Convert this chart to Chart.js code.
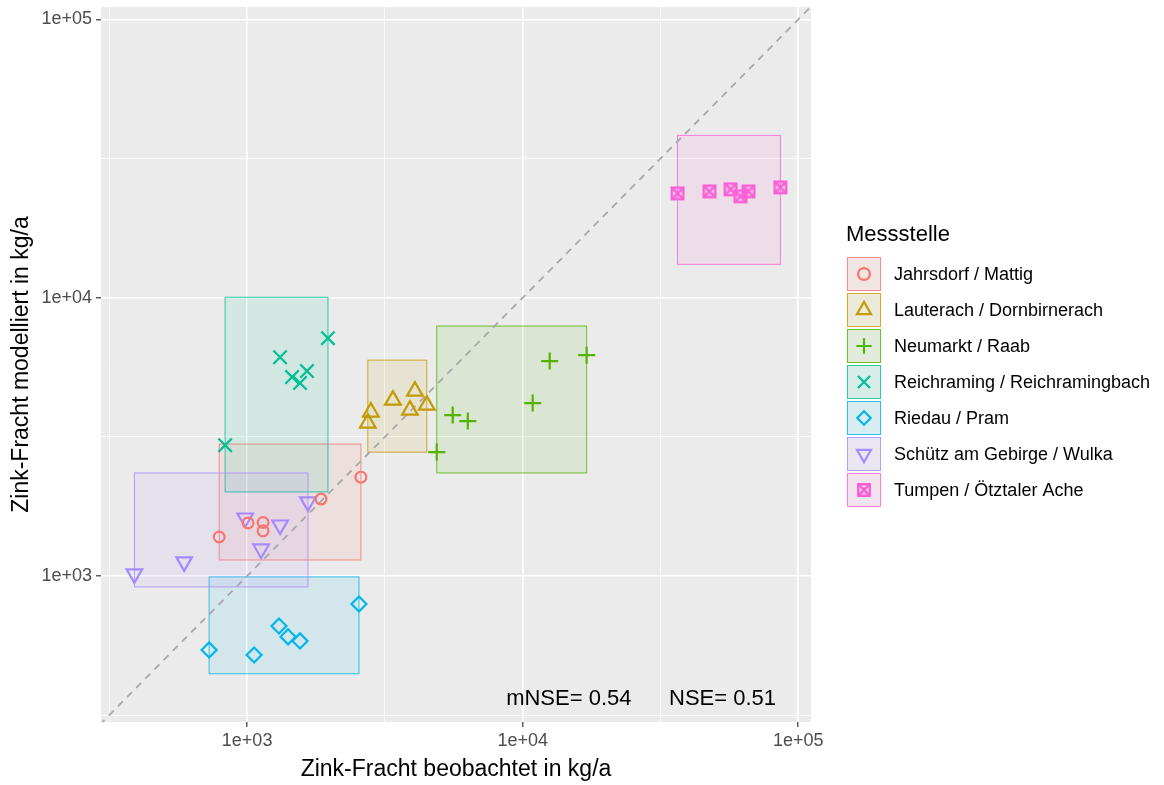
<!DOCTYPE html>
<html lang="de">
<head>
<meta charset="UTF-8">
<script src="https://cdn.jsdelivr.net/npm/chart.js"></script>
<style>
  html, body { margin: 0; padding: 0; background: #fff; }
  #wrap { width: 1164px; height: 785px; }
</style>
</head>
<body>
<div id="wrap"><canvas id="myChart" width="1164" height="785"></canvas></div>
<script>
// Messstellen
const stations = ['Jahrsdorf / Mattig', 'Lauterach / Dornbirnerach', 'Neumarkt / Raab',
  'Reichraming / Reichramingbach', 'Riedau / Pram', 'Schütz am Gebirge / Wulka', 'Tumpen / Ötztaler Ache']
const colors = ['#F8766D', '#C49A00', '#53B400', '#00C094', '#00B6EB', '#A58AFF', '#FB61D7']

// beobachtet (x) / modelliert (y), kg/a
const jahrsdorfObs = [792, 1008, 1143, 1143, 1854, 2588]
const jahrsdorfMod = [1380, 1550, 1556, 1452, 1889, 2265]
const lauterachObs = [2812, 2741, 3381, 4063, 3897, 4487]
const lauterachMod = [3882, 3541, 4285, 4617, 3945, 4111]
const neumarktObs = [4876, 5572, 6322, 10870, 12530, 17060]
const neumarktMod = [2786, 3785, 3603, 4181, 5917, 6215]
const reichramingObs = [832, 1317, 1456, 1556, 1649, 1965]
const reichramingMod = [2951, 6108, 5183, 4935, 5447, 7156]
const riedauObs = [728, 1060, 1305, 1408, 1556, 2546]
const riedauMod = [542, 520, 661, 604, 584, 793]
const schuetzObs = [390, 591, 984, 1124, 1317, 1663]
const schuetzMod = [1017, 1123, 1615, 1250, 1524, 1845]
const tumpenObs = [36450, 47620, 56770, 61700, 65960, 86120]
const tumpenMod = [23710, 24100, 24520, 23140, 24100, 24920]

// Bereich modelliert (untere / obere Grenze der Rechtecke)
const boxLow = [1141, 2786, 2345, 2004, 445, 913, 13180]
const boxHigh = [2979, 5965, 7910, 10040, 992, 2344, 38320]

const tickValues = [316.23, 1000, 3162.3, 10000, 31623, 100000]
const majorTicks = [1000, 10000, 100000]
const nseLabels = ['mNSE= 0.54', 'NSE= 0.51']

const allObs = [jahrsdorfObs, lauterachObs, neumarktObs, reichramingObs, riedauObs, schuetzObs, tumpenObs]
const allMod = [jahrsdorfMod, lauterachMod, neumarktMod, reichramingMod, riedauMod, schuetzMod, tumpenMod]

const FONT = '"Liberation Sans", Arial, sans-serif'

function alpha(hex, a) {
    const n = parseInt(hex.slice(1), 16)
    return 'rgba(' + (n >> 16) + ',' + ((n >> 8) & 255) + ',' + (n & 255) + ',' + a + ')'
}

// boxed cross (ggplot shape 7)
function boxCross(color) {
    const c = document.createElement('canvas')
    c.width = 16; c.height = 16
    const g = c.getContext('2d')
    g.strokeStyle = color
    g.lineWidth = 2.6
    g.strokeRect(2.3, 2.3, 11.4, 11.4)
    g.beginPath()
    g.moveTo(3, 3); g.lineTo(13, 13)
    g.moveTo(13, 3); g.lineTo(3, 13)
    g.stroke()
    return c
}

const styles = [
    {pointStyle: 'circle', radius: 5.4, rotation: 0},
    {pointStyle: 'triangle', radius: 9, rotation: 0},
    {pointStyle: 'cross', radius: 8.5, rotation: 0},
    {pointStyle: 'crossRot', radius: 9.5, rotation: 0},
    {pointStyle: 'rectRot', radius: 7.5, rotation: 0},
    {pointStyle: 'triangle', radius: 9, rotation: 180},
    {pointStyle: boxCross(colors[6]), radius: 8, rotation: 0}
]

const isMajor = v => majorTicks.some(m => Math.abs(v - m) / m < 1e-6)

const datasets = stations.map((name, i) => ({
    label: name,
    data: allObs[i].map((x, j) => ({x: x, y: allMod[i][j]})),
    borderColor: colors[i],
    backgroundColor: 'rgba(0,0,0,0)',
    borderWidth: 2.2,
    pointStyle: styles[i].pointStyle,
    pointRadius: styles[i].radius,
    pointRotation: styles[i].rotation
}))
datasets.push({
    type: 'line',
    label: 'identity',
    data: [{x: 100, y: 100}, {x: 300000, y: 300000}],
    borderColor: '#A8A8A8',
    borderWidth: 1.8,
    borderDash: [7, 6],
    pointRadius: 0,
    fill: false
})

const panelPlugin = {
    id: 'panel',
    beforeDraw(chart) {
        const {ctx, chartArea: a} = chart
        ctx.save()
        ctx.fillStyle = '#EBEBEB'
        ctx.fillRect(a.left, a.top, a.right - a.left, a.bottom - a.top)
        ctx.restore()
    },
    beforeDatasetsDraw(chart) {
        const {ctx, scales: {x, y}} = chart
        ctx.save()
        stations.forEach((s, i) => {
            const x0 = x.getPixelForValue(Math.min(...allObs[i]))
            const x1 = x.getPixelForValue(Math.max(...allObs[i]))
            const y0 = y.getPixelForValue(boxHigh[i])
            const y1 = y.getPixelForValue(boxLow[i])
            ctx.fillStyle = alpha(colors[i], 0.1)
            ctx.fillRect(x0, y0, x1 - x0, y1 - y0)
            ctx.strokeStyle = alpha(colors[i], 0.8)
            ctx.lineWidth = 1
            ctx.strokeRect(x0, y0, x1 - x0, y1 - y0)
        })
        ctx.restore()
    },
    afterDatasetsDraw(chart) {
        const {ctx, scales: {x, y}} = chart
        ctx.save()
        ctx.font = '22px ' + FONT
        ctx.fillStyle = '#000'
        ctx.textAlign = 'center'
        ctx.textBaseline = 'middle'
        ctx.fillText(nseLabels[0], x.getPixelForValue(14700), y.getPixelForValue(361))
        ctx.fillText(nseLabels[1], x.getPixelForValue(53100), y.getPixelForValue(361))
        ctx.restore()
    },
    afterDraw(chart) {
        const ctx = chart.ctx
        ctx.save()
        ctx.font = '22px ' + FONT
        ctx.fillStyle = '#000'
        ctx.textBaseline = 'middle'
        ctx.textAlign = 'left'
        ctx.fillText('Messstelle', 846, 235)
        stations.forEach((name, i) => {
            const top = 257 + i * 36
            const left = 847
            ctx.fillStyle = '#F2F2F2'
            ctx.fillRect(left, top, 34, 34)
            ctx.fillStyle = alpha(colors[i], 0.1)
            ctx.fillRect(left, top, 34, 34)
            ctx.strokeStyle = alpha(colors[i], 0.8)
            ctx.lineWidth = 1
            ctx.strokeRect(left + 0.5, top + 0.5, 33, 33)
            ctx.strokeStyle = colors[i]
            ctx.fillStyle = 'rgba(0,0,0,0)'
            ctx.lineWidth = 2.2
            Chart.helpers.drawPoint(ctx, {
                pointStyle: styles[i].pointStyle,
                rotation: styles[i].rotation,
                radius: styles[i].radius * (i === 0 ? 1.1 : 0.9),
                borderWidth: 2.2
            }, left + 17, top + 17)
            ctx.fillStyle = '#000'
            ctx.font = '18px ' + FONT
            ctx.fillText(name, 894, top + 18)
        })
        ctx.restore()
    }
}

function axis(title, isX) {
    return {
        type: 'logarithmic',
        min: isX ? 295 : 298.5,
        max: isX ? 111200 : 110900,
        afterBuildTicks: scale => { scale.ticks = tickValues.map(v => ({value: v})) },
        afterFit: scale => {
            if (isX) {
                scale.height = 63
                scale.paddingLeft = 0
                scale.paddingRight = 0
            } else {
                scale.width = 101
                scale.paddingTop = 0
                scale.paddingBottom = 0
            }
        },
        ticks: {
            autoSkip: false,
            maxRotation: 0,
            color: '#4D4D4D',
            font: {family: FONT, size: 18},
            padding: isX ? 3 : 4,
            callback: v => isMajor(v) ? v.toExponential(0).replace('e+', 'e+0') : ''
        },
        grid: {
            color: '#FFFFFF',
            lineWidth: c => isMajor(c.tick.value) ? 1.6 : 0.8,
            tickColor: c => isMajor(c.tick.value) ? '#333333' : 'rgba(0,0,0,0)',
            tickWidth: 1.2,
            tickLength: 5,
            drawTicks: true
        },
        border: {display: false},
        title: {
            display: true,
            text: title,
            color: '#000',
            font: {family: FONT, size: 23},
            padding: isX ? {top: 0, bottom: 2} : {top: 8, bottom: 0}
        }
    }
}

new Chart(document.getElementById('myChart'), {
    type: 'scatter',
    data: {datasets: datasets},
    options: {
        responsive: false,
        animation: false,
        events: [],
        layout: {autoPadding: false, padding: {top: 7, right: 353, bottom: 0, left: 0}},
        plugins: {legend: {display: false}, tooltip: {enabled: false}},
        scales: {
            x: axis('Zink-Fracht beobachtet in kg/a', true),
            y: axis('Zink-Fracht modelliert in kg/a', false)
        }
    },
    plugins: [panelPlugin]
})
</script>
</body>
</html>
